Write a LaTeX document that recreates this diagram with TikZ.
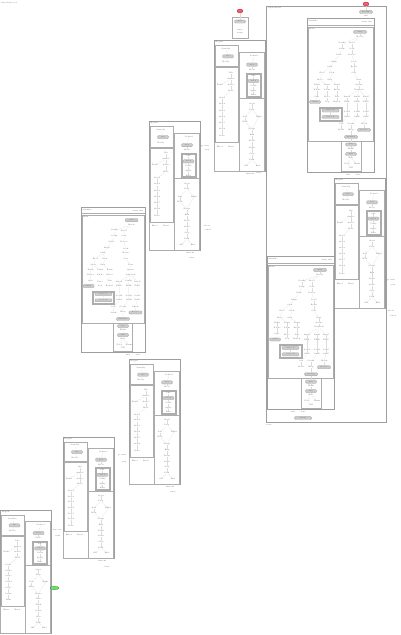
\documentclass[tikz,border=0pt]{standalone}
\usetikzlibrary{shapes.geometric,arrows.meta}
\definecolor{rstart}{RGB}{240,95,115}
\definecolor{gfin}{RGB}{110,220,110}
\tikzset{
 mbox/.style={draw=black!38,line width=0.5pt},
 ibox/.style={draw=black!32,line width=0.3pt},
 tl/.style={font=\fontsize{1.8}{2}\selectfont,inner sep=0pt,text=black!70},
 gn/.style={rectangle,rounded corners=1pt,fill=black!20,draw=black!40,line width=0.2pt,minimum width=11pt,minimum height=3.2pt,inner sep=0pt,font=\fontsize{1.4}{1.5}\selectfont,text=black!75},
 wgn/.style={gn,minimum width=17pt},
 cn/.style={draw=black!14,line width=0.15pt},
 pseudo/.style={ellipse,inner sep=0pt,minimum width=6pt,minimum height=4pt},
}
\newcommand{\smod}[4]{%
\begin{scope}[shift={(#1,#2)},yscale=#4/128]
\draw[mbox] (0,0) rectangle (51,128);
\node[tl,anchor=west] (#3t) at (1.5,2.5) {Region};
\draw[ibox] (1,5) rectangle (24,26);
\draw[ibox] (1,27) rectangle (24,100);
\draw[ibox] (0,100) rectangle (25,128);
\draw[ibox] (25,12) rectangle (50,128);
\draw[ibox] (32,32) rectangle (47,56);
\draw[ibox] (33,33) rectangle (46,55);
\draw[ibox] (25,57) -- (50,57);
\node[gn] (#3g1) at (14,16) {Init};
\node[gn] (#3g2) at (38,24) {Load};
\node[gn] (#3g3) at (39.5,40) {Check};
\foreach \n/\x/\y/\s in {a1/12/9/Standby, a3/12/22/Ready, l1/17/32/Idle, l2/17/38/Armed, l3/6/44/Fault, l4/17/44/Active, l5/17/50/Hold, l6/8/57/Step1, l7/8/63/Step2, l8/8/69/Step3, l9/8/75/Step4, l10/8/81/Step5, l11/8/87/Step6, l12/8/94/Done, b1/6/104/Error, b2/17/104/Reset, r1/40/16/Control, r3/38/29/Mode, n1/39.5/35/Sub, n3/39.5/45/Verify, n4/39.5/50/Apply, n5/39.5/54/Exit, q1/38/62/Start, q2/38/68/Prep, q3/31/75/Left, q4/45/75/Right, q5/31/80/Wait, q6/38/87/Merge, q7/38/93/Run, q8/38/99/Track, q9/38/105/Settle, q10/38/111/Stop, q11/38/117/Park, q12/32/123/Off, q13/44/123/End}
  \node[tl] (#3\n) at (\x,\y) {\s};
\foreach \p/\q in {a1/g1, g1/a3, l1/l2, l2/l3, l2/l4, l4/l5, l5/l6, l6/l7, l7/l8, l8/l9, l9/l10, l10/l11, l11/l12, r1/g2, g2/r3, n1/g3, g3/n3, n3/n4, n4/n5, q1/q2, q2/q3, q2/q4, q3/q5, q4/q6, q5/q6, q6/q7, q7/q8, q8/q9, q9/q10, q10/q11, q11/q12, q11/q13}
  \draw[cn] (#3\p) -- (#3\q);
\end{scope}}
\newcommand{\lmod}[5]{%
\begin{scope}[shift={(#1,#2)},xscale=#4/67,yscale=#5/154]
\draw[mbox] (0,0) rectangle (67,154);
\draw[ibox] (0,7) -- (67,7);
\node[tl,anchor=west] (#3t) at (1.5,3) {Machine};
\node[tl,anchor=east] (#3tt) at (65,4.5) {entry init};
\draw[ibox] (1,9) rectangle (66,123);
\node[tl,anchor=west] (#3ts) at (2,11) {Main};
\draw[ibox] (34,123) rectangle (54,153);
\draw[ibox] (12,89) rectangle (35,103);
\draw[ibox] (13,90) rectangle (34,102);
\node[gn,minimum width=13pt] (#3g0) at (53,14) {Start};
\node[wgn,minimum width=11pt] (#3m1) at (8,84) {Alarm};
\node[wgn] (#3o1) at (23.5,92.5) {Service A};
\node[wgn] (#3o2) at (23.5,99) {Service B};
\node[wgn,minimum width=13pt] (#3s6) at (57,112) {Recover};
\node[wgn,minimum width=13pt] (#3u) at (44,119) {Shutdown};
\node[gn] (#3v1) at (44,126.5) {Save};
\node[gn] (#3v3) at (44,136) {Close};
\foreach \n/\x/\y/\s in {a/53/19/Ready, b1/35/25/Config, b2/45/25/Probe, c1/35/31/Setup, c2/45/31/Scan, d1/32/37/Calib, d2/45/37/Detect, e1/27/44/Align, e2/47/44/Lock, f1/23/49/Split, f2/47/49/Route, g1/15/55/Feed, g2/25/55/Pick, g3/47/55/Sort, h1/13/62/Move, h2/23/62/Grip, h3/52/62/Pass, i1/10/67/Xaxis, i2/20/67/Yaxis, i3/30/67/Zaxis, i4/52/67/Queue, j1/10/72/Xdone, j2/20/72/Ydone, j3/30/72/Zdone, j4/52/72/Dispatch, k1/10/79/Sync, k2/20/79/Place, k3/30/79/Test, k4/40/79/LineA, k5/50/79/LineB, k6/59/79/LineC, m2/20/84/Log, m3/30/84/Report, m4/40/84/FillA, m5/50/84/FillB, m6/59/84/FillC, p1/40/94/SealA, p2/50/94/SealB, p3/59/94/SealC, p4/40/99/OutA, p5/50/99/OutB, p6/59/99/OutC, s1/34/106/Join, s2/44/106/Count, s3/57/106/Check, s4/34/112/Stack, s5/44/112/Wrap, v2/44/131/Flush, v4/44/140/Halt, v5/40/146/Cold, v6/50/146/Warm, v7/44/150/Off}
  \node[tl] (#3\n) at (\x,\y) {\s};
\foreach \p/\q in {g0/a, a/b2, a/b1, b1/c1, b2/c2, c1/d1, c2/d2, d1/e1, d2/e2, e1/f1, e2/f2, f1/g1, f1/g2, f2/g3, g1/h1, g2/h2, g3/h3, h1/i1, h1/i2, h2/i3, h3/i4, i1/j1, i2/j2, i3/j3, i4/j4, j1/k1, j2/k2, j3/k3, j4/k4, j4/k5, j4/k6, k1/m1, k2/m2, k3/m3, k4/m4, k5/m5, k6/m6, m4/p1, m5/p2, m6/p3, p1/p4, p2/p5, p3/p6, p4/s1, p5/s2, p6/s3, s1/s4, s2/s5, s3/s6, s5/u, u/v1, v1/v2, v2/v3, v3/v4, v4/v5, v4/v6, v5/v7, o1/o2}
  \draw[cn] (#3\p) -- (#3\q);
\end{scope}}
\begin{document}
\begin{tikzpicture}[x=1pt,y=-1pt]
\useasboundingbox (0,0) rectangle (400,635);
\node[tl,anchor=west] (title) at (1,2.5) {statechart root};
% ---------- left chain ----------
\smod{0.5}{510}{MA}{123}
\node[pseudo,fill=gfin,draw=green!50!black,line width=0.2pt,minimum width=9pt,minimum height=3.5pt] (final) at (54.5,588) {};
\node[tl] (MAx1) at (57,530) {done evt};
\node[tl] (MAx2) at (58,536) {next};
\smod{63}{437}{MB}{121}
\node[tl] (MBx1) at (102,561) {timeout};
\node[tl] (MBx2) at (107,567) {retry};
\node[tl] (MBx3) at (122,455.5) {go next};
\node[tl] (MBx4) at (124,462) {step};
\smod{129}{359}{MC}{125}
\node[tl] (MCx1) at (170,486.5) {timeout};
\node[tl] (MCx2) at (173,492.5) {retry};
\lmod{81}{207}{LA}{64}{145}
\node[tl] (LAx1) at (128,354.5) {exit};
\node[tl] (LAx2) at (138,354.5) {done};
\smod{149}{121}{MD}{129}
\node[tl] (MDx1) at (190,252.5) {timeout};
\node[tl] (MDx2) at (192,258.5) {retry};
\node[tl] (MDx3) at (205,146) {go next};
\node[tl] (MDx4) at (207,150) {step};
\node[tl] (MDx5) at (207,225.5) {abort};
\node[tl] (MDx6) at (208,230) {cancel};
% ---------- group A ----------
\node[pseudo,fill=rstart,draw=red!60!black,line width=0.2pt] (startA) at (240,11) {};
\node[draw=black!32,line width=0.3pt,minimum width=16pt,minimum height=21pt,inner sep=0pt] (boxA) at (240,27.5) {};
\node[gn] (gA) at (240,21.5) {Boot};
\node[tl] (tA1) at (240,30) {entry};
\node[tl] (tA2) at (240,33.5) {setup};
\draw[cn] (startA) -- (gA);
\smod{214}{40}{ME}{131}
\node[tl] (MEx1) at (250,173.5) {timeout};
\node[tl] (MEx2) at (259,173.5) {retry};
% ---------- group B ----------
\draw[mbox] (266,6) rectangle (386,422);
\node[tl,anchor=west] (titleB) at (268,8.5) {Operational};
\node[pseudo,fill=rstart,draw=red!60!black,line width=0.2pt] (startB) at (366,4) {};
\node[gn,minimum width=13pt] (gB) at (366,12) {PowerOn};
\node[tl] (tB1) at (366,15.5) {init};
\draw[cn] (startB) -- (gB);
\lmod{307}{18}{LB}{67}{154}
\node[tl] (LBx1) at (348,174.5) {exit};
\node[tl] (LBx2) at (358,174.5) {done};
\smod{334}{178}{MF}{130}
\node[tl] (MFx1) at (391,280) {go next};
\node[tl] (MFx2) at (393,285) {step};
\node[tl] (MFx3) at (391,311) {abort};
\node[tl] (MFx4) at (393,316) {cancel};
\lmod{267}{256}{LC}{67}{153}
\node[tl] (LCx1) at (293,412) {exit};
\node[tl] (LCx2) at (303,412) {done};
\node[wgn] (gC) at (303,418) {Standby};
\node[tl] (tC) at (269,425) {reset};
\end{tikzpicture}
\end{document}
